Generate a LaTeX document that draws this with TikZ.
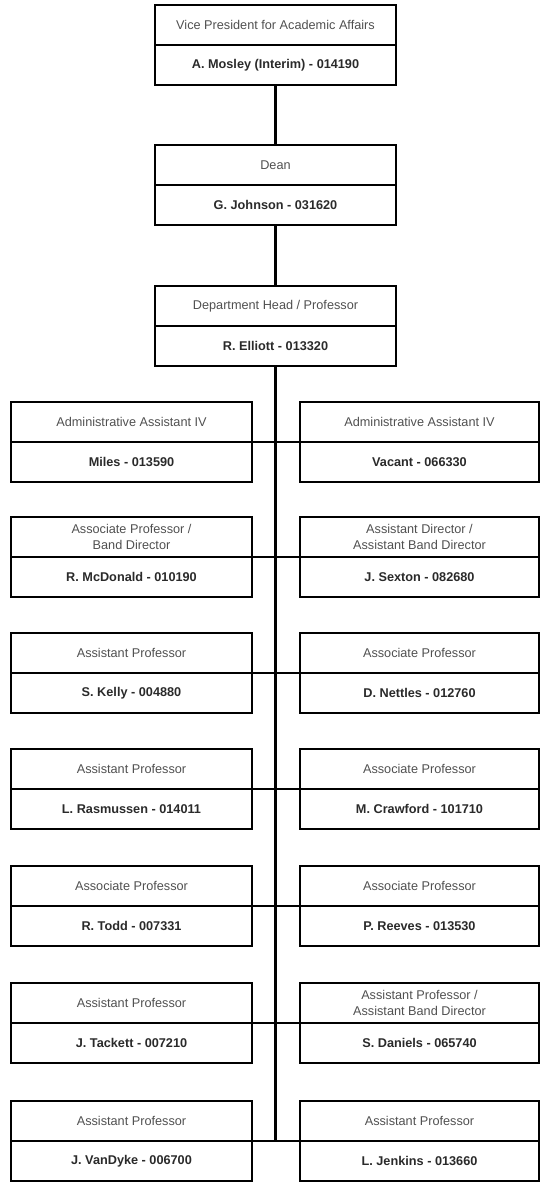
\documentclass[tikz,border=0pt]{standalone}
\usepackage{fontspec}
\setmainfont{Liberation Sans}
\definecolor{titlegray}{HTML}{505050}
\definecolor{namegray}{HTML}{2A2A2A}
\tikzset{
  half/.style={draw=black, line width=2.6pt, minimum height=40pt, inner sep=0pt, outer sep=0pt, anchor=north, align=center},
  titlebox/.style={half, text=titlegray, font=\fontsize{12.7}{16}\selectfont},
  namebox/.style={half, text=namegray, font=\fontsize{12.7}{15}\selectfont\bfseries},
  topw/.style={minimum width=241pt},
  leftw/.style={minimum width=241pt},
  rightw/.style={minimum width=239pt},
  link/.style={draw=black, line width=2.6pt}
}
\begin{document}
\begin{tikzpicture}[x=1pt,y=-1pt]
\useasboundingbox (0,0) rectangle (544,1183);
% top chain
\node[titlebox,topw] (vp-t) at (275.5,5) {Vice President for Academic Affairs};
\node[namebox,topw] (vp-n) at (vp-t.south) {A. Mosley (Interim) - 014190};
\node[titlebox,topw] (dean-t) at (275.5,145) {Dean};
\node[namebox,topw] (dean-n) at (dean-t.south) {G. Johnson - 031620};
\node[titlebox,topw] (head-t) at (275.5,286) {Department Head / Professor};
\node[namebox,topw] (head-n) at (head-t.south) {R. Elliott - 013320};
% row 1
\node[titlebox,leftw] (l1-t) at (131.5,402) {Administrative Assistant IV};
\node[namebox,leftw] (l1-n) at (l1-t.south) {Miles - 013590};
\node[titlebox,rightw] (r1-t) at (419.5,402) {Administrative Assistant IV};
\node[namebox,rightw] (r1-n) at (r1-t.south) {Vacant - 066330};
% row 2
\node[titlebox,leftw] (l2-t) at (131.5,517) {Associate Professor /\\Band Director};
\node[namebox,leftw] (l2-n) at (l2-t.south) {R. McDonald - 010190};
\node[titlebox,rightw] (r2-t) at (419.5,517) {Assistant Director /\\Assistant Band Director};
\node[namebox,rightw] (r2-n) at (r2-t.south) {J. Sexton - 082680};
% row 3
\node[titlebox,leftw] (l3-t) at (131.5,633) {Assistant Professor};
\node[namebox,leftw] (l3-n) at (l3-t.south) {S. Kelly - 004880};
\node[titlebox,rightw] (r3-t) at (419.5,633) {Associate Professor};
\node[namebox,rightw] (r3-n) at (r3-t.south) {D. Nettles - 012760};
% row 4
\node[titlebox,leftw] (l4-t) at (131.5,749) {Assistant Professor};
\node[namebox,leftw] (l4-n) at (l4-t.south) {L. Rasmussen - 014011};
\node[titlebox,rightw] (r4-t) at (419.5,749) {Associate Professor};
\node[namebox,rightw] (r4-n) at (r4-t.south) {M. Crawford - 101710};
% row 5
\node[titlebox,leftw] (l5-t) at (131.5,866) {Associate Professor};
\node[namebox,leftw] (l5-n) at (l5-t.south) {R. Todd - 007331};
\node[titlebox,rightw] (r5-t) at (419.5,866) {Associate Professor};
\node[namebox,rightw] (r5-n) at (r5-t.south) {P. Reeves - 013530};
% row 6
\node[titlebox,leftw] (l6-t) at (131.5,983) {Assistant Professor};
\node[namebox,leftw] (l6-n) at (l6-t.south) {J. Tackett - 007210};
\node[titlebox,rightw] (r6-t) at (419.5,983) {Assistant Professor /\\Assistant Band Director};
\node[namebox,rightw] (r6-n) at (r6-t.south) {S. Daniels - 065740};
% row 7
\node[titlebox,leftw] (l7-t) at (131.5,1101) {Assistant Professor};
\node[namebox,leftw] (l7-n) at (l7-t.south) {J. VanDyke - 006700};
\node[titlebox,rightw] (r7-t) at (419.5,1101) {Assistant Professor};
\node[namebox,rightw] (r7-n) at (r7-t.south) {L. Jenkins - 013660};
% connectors
\coordinate (trunk-end) at (head-n.south |- l7-t.south);
\draw[link] (vp-n.south) -- (dean-t.north);
\draw[link] (dean-n.south) -- (head-t.north);
\draw[link] (head-n.south) -- (trunk-end);
\foreach \i in {1,...,7}{
  \draw[link] (l\i-t.south east) -- (r\i-t.south west);
}
\end{tikzpicture}
\end{document}
